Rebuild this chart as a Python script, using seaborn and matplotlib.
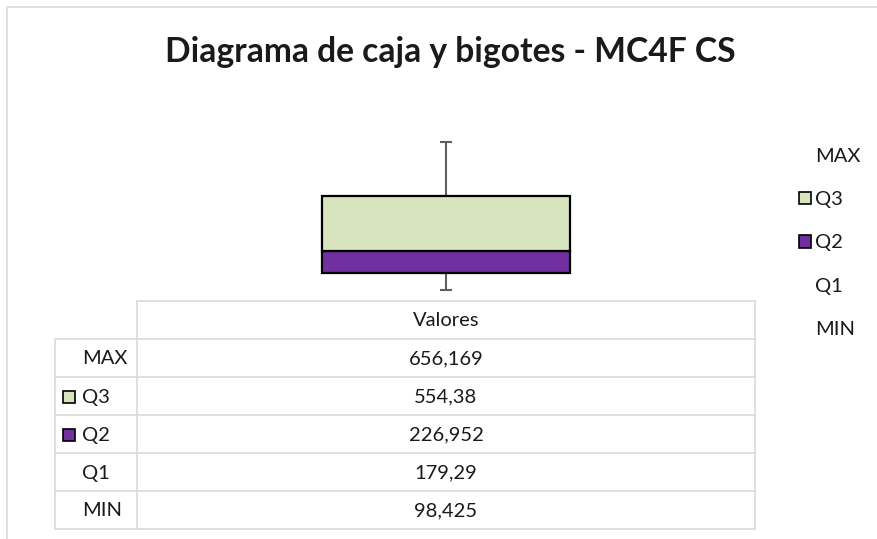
import numpy as np
import pandas as pd
import matplotlib
matplotlib.use("Agg")
import matplotlib.pyplot as plt
from matplotlib.patches import Patch, Rectangle
import seaborn as sns

# data (as shown in the data table)
series = ['MAX', 'Q3', 'Q2', 'Q1', 'MIN']
values = [656.169, 554.38, 226.952, 179.29, 98.425]
category = 'Valores'
# whisker lengths
whisker_up = 554.38
whisker_down = 179.29

face = {'MAX': 'none', 'Q3': '#d7e4bd', 'Q2': '#7030a0', 'Q1': 'none', 'MIN': 'none'}
grid_col = '#d9d9d9'
txt_col = '#1a1a1a'
fs = 14.5

sns.set_theme(style='white')
plt.rcParams['font.family'] = ['Lato', 'DejaVu Sans']

W, H = 878, 539
fig = plt.figure(figsize=(W / 100, H / 100), dpi=100)
fig.patch.set_facecolor('white')

# stacked columns, MIN at the bottom
ax = fig.add_axes([137 / W, 1 - 300 / H, 618 / W, 196 / H])
df = pd.DataFrame({'serie': series, 'valor': values, 'cat': category})
stack = df.iloc[::-1].reset_index(drop=True)
stack['base'] = stack['valor'].cumsum() - stack['valor']

for _, r in stack.iterrows():
    if face[r['serie']] == 'none':
        continue
    sns.barplot(x=[r['cat']], y=[r['valor']], bottom=r['base'], width=0.4,
                color=face[r['serie']], saturation=1, edgecolor='black',
                linewidth=1.6, errorbar=None, ax=ax, zorder=3)

# whiskers (error bars)
top_q3 = stack.loc[stack['serie'] == 'Q3', ['base', 'valor']].sum(axis=1).iloc[0]
bot_q2 = stack.loc[stack['serie'] == 'Q2', 'base'].iloc[0]
ax.errorbar([0], [top_q3], yerr=[[0], [whisker_up]], fmt='none', ecolor='#5f5f5f',
            elinewidth=1.5, capsize=4.5, capthick=1.5, zorder=2)
ax.errorbar([0], [bot_q2], yerr=[[whisker_down], [0]], fmt='none', ecolor='#5f5f5f',
            elinewidth=1.5, capsize=4.5, capthick=1.5, zorder=2)
ax.set_ylim(0, 2000)
ax.set_xlim(-0.5, 0.5)
ax.axis('off')

# title
fig.text(450 / W, 1 - 52 / H, 'Diagrama de caja y bigotes - MC4F CS', ha='center', va='center',
         fontsize=24.2, fontweight='bold', color=txt_col)

# legend
handles = [Patch(facecolor=face[s], edgecolor='black' if face[s] != 'none' else 'none',
                 linewidth=1.2, label=s) for s in series]
fig.legend(handles=handles, loc='upper left', bbox_to_anchor=(799 / W, 1 - 148 / H),
           frameon=False, fontsize=fs, handlelength=0.6, handleheight=0.6,
           handletextpad=0.2, labelspacing=1.3, borderpad=0, borderaxespad=0,
           labelcolor=txt_col)

# data table
ov = fig.add_axes([0, 0, 1, 1], zorder=-1)
ov.set_xlim(0, W)
ov.set_ylim(H, 0)
ov.axis('off')
ov.add_patch(Rectangle((7, 7), W, H, fill=False, edgecolor=grid_col, linewidth=1.2))

x_lab, x_col, x_end = 55, 137, 755
y_head, row_h = 301, 38
y_rows = [y_head + row_h * (i + 1) for i in range(len(series) + 1)]
ov.plot([x_col, x_end], [y_head, y_head], color=grid_col, lw=1.2)
for y in y_rows:
    ov.plot([x_lab, x_end], [y, y], color=grid_col, lw=1.2)
ov.plot([x_col, x_col], [y_head, y_rows[-1]], color=grid_col, lw=1.2)
ov.plot([x_end, x_end], [y_head, y_rows[-1]], color=grid_col, lw=1.2)
ov.plot([x_lab, x_lab], [y_rows[0], y_rows[-1]], color=grid_col, lw=1.2)

xc = (x_col + x_end) / 2
ov.text(xc, y_head + row_h / 2 + 1, category, ha='center', va='center', fontsize=fs, color=txt_col)
for i, (s, v) in enumerate(zip(series, values)):
    yc = y_rows[i] + row_h / 2 + 1
    ov.text(82, yc, s, ha='left', va='center', fontsize=fs, color=txt_col)
    ov.text(xc, yc, f'{v:g}'.replace('.', ','), ha='center', va='center', fontsize=fs, color=txt_col)
    if face[s] != 'none':
        ov.add_patch(Rectangle((63, yc - 6), 12, 12, facecolor=face[s], edgecolor='black', lw=1.2))

fig.savefig('out.png', dpi=100)
